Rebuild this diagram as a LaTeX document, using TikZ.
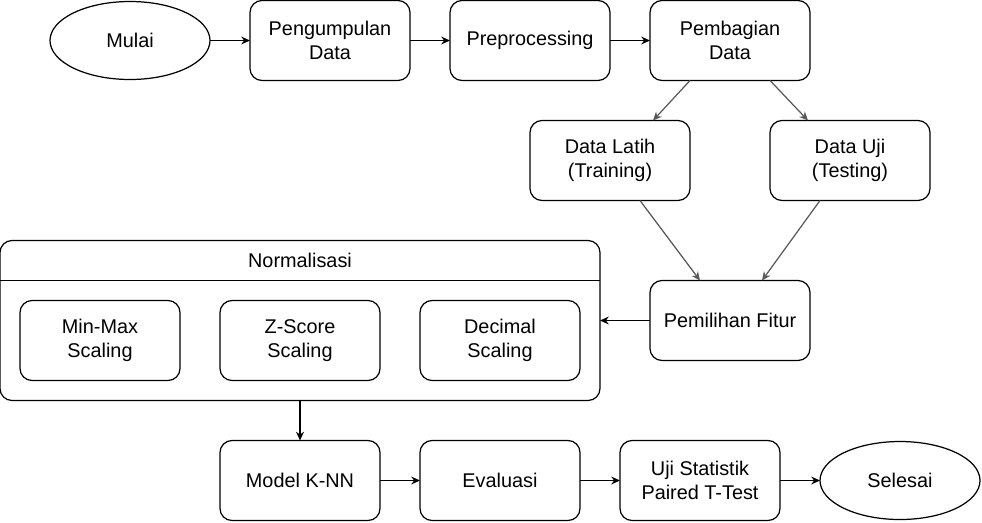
\documentclass[tikz,border=0pt]{standalone}
\usepackage{fontspec}
\setmainfont{Liberation Sans}
\usepackage{tikz}
\usetikzlibrary{shapes.geometric,positioning,arrows.meta}
\definecolor{flowgray}{RGB}{89,89,89}
\newcommand{\cdiag}{flowgray}
\tikzset{
	every node/.style = { align = center, draw, outer sep=0pt, font=\fontsize{11.3}{13.6}\selectfont },
	proc/.style = { rectangle, rounded corners=2.4mm, minimum width=32mm, minimum height=16mm },
	term/.style = { ellipse, minimum width=32mm, minimum height=15.6mm, inner sep=0pt },
	grp/.style = { rectangle, rounded corners=2.4mm, minimum width=120mm, minimum height=32mm },
	head/.style = { draw=none, minimum height=8mm },
	diag/.style = { ->, draw=\cdiag },
}

\begin{document}
\begin{tikzpicture}[node distance=8mm, line width=0.7pt, >={Stealth[length=5pt,width=4.5pt]}]
\useasboundingbox (0,0) rectangle (19.64,-10.44);

\node (mulai)  [term] at (2.6,-0.81) {Mulai};
\node (kumpul) [proc,right=of mulai]  {Pengumpulan\\Data};
\node (prepro) [proc,right=of kumpul] {Preprocessing};
\node (bagi)   [proc,right=of prepro] {Pembagian\\Data};
\draw[->] (mulai)  -- (kumpul);
\draw[->] (kumpul) -- (prepro);
\draw[->] (prepro) -- (bagi);

\node (latih)  [proc,below=8mm of bagi.south west,xshift=-8mm] {Data Latih\\(Training)};
\node (uji)    [proc,below=8mm of bagi.south east,xshift=8mm]  {Data Uji\\(Testing)};
\node (fitur)  [proc,below=16mm of bagi|-latih.south] {Pemilihan Fitur};
\draw[diag] ([xshift=-8mm]bagi.south) -- ([xshift=8.6mm]latih.north);
\draw[diag] ([xshift=8mm]bagi.south)  -- ([xshift=-8.4mm]uji.north);
\draw[diag] ([xshift=6mm]latih.south) -- ([xshift=-6mm]fitur.north);
\draw[diag] ([xshift=-6mm]uji.south)  -- ([xshift=6.4mm]fitur.north);

% normalisasi group
\node (norm)     [grp,left=10mm of fitur] {};
\node (normhead) [head,below=0mm of norm.north] {Normalisasi};
\draw (norm.west|-normhead.south) -- (norm.east|-normhead.south);
\node (zscore)   [proc,below=4mm of normhead] {Z-Score\\Scaling};
\node (minmax)   [proc,left=of zscore]  {Min-Max\\Scaling};
\node (desimal)  [proc,right=of zscore] {Decimal\\Scaling};
\draw[->] (fitur) -- (norm);

\node (knn)     [proc,below=of norm]     {Model K-NN};
\node (eval)    [proc,right=of knn]      {Evaluasi};
\node (ujistat) [proc,right=of eval]     {Uji Statistik\\Paired T-Test};
\node (selesai) [term,right=of ujistat]  {Selesai};
\draw[->] (norm)    -- (knn);
\draw[->] (knn)     -- (eval);
\draw[->] (eval)    -- (ujistat);
\draw[->] (ujistat) -- (selesai);

\end{tikzpicture}
\end{document}
